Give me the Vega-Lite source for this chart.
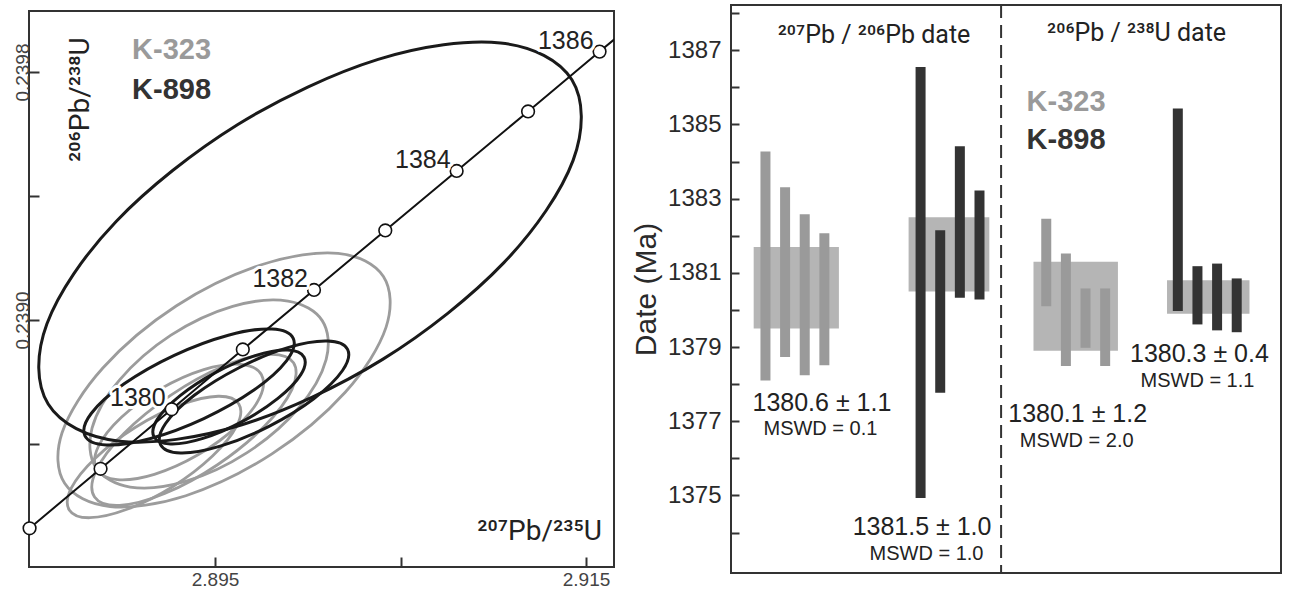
{
  "$schema": "https://vega.github.io/schema/vega-lite/v6.json",
  "background": "white",
  "padding": {"left": 11, "top": 3, "right": 0, "bottom": 0},
  "autosize": {"type": "pad"},
  "bounds": "flush",
  "center": true,
  "spacing": 117,
  "config": {"font": "Liberation Sans", "view": {"stroke": "#333333", "strokeWidth": 2}},
  "datasets": {
    "ellipses": [
      {"e":"B1","s":"K-898","i":0,"x":2.91424,"y":0.239775},{"e":"B1","s":"K-898","i":1,"x":2.914305,"y":0.239515},{"e":"B1","s":"K-898","i":2,"x":2.910574,"y":0.239185},{"e":"B1","s":"K-898","i":3,"x":2.904035,"y":0.238873},{"e":"B1","s":"K-898","i":4,"x":2.89645,"y":0.238662},{"e":"B1","s":"K-898","i":5,"x":2.889852,"y":0.238609},{"e":"B1","s":"K-898","i":6,"x":2.886003,"y":0.238729},{"e":"B1","s":"K-898","i":7,"x":2.885938,"y":0.238988},{"e":"B1","s":"K-898","i":8,"x":2.889668,"y":0.239318},{"e":"B1","s":"K-898","i":9,"x":2.896208,"y":0.23963},{"e":"B1","s":"K-898","i":10,"x":2.903793,"y":0.239841},{"e":"B1","s":"K-898","i":11,"x":2.910391,"y":0.239894},
      {"e":"G1","s":"K-323","i":0,"x":2.904078,"y":0.23914},{"e":"G1","s":"K-323","i":1,"x":2.904218,"y":0.238976},{"e":"G1","s":"K-323","i":2,"x":2.902019,"y":0.238767},{"e":"G1","s":"K-323","i":3,"x":2.898067,"y":0.238568},{"e":"G1","s":"K-323","i":4,"x":2.893426,"y":0.238433},{"e":"G1","s":"K-323","i":5,"x":2.88934,"y":0.238398},{"e":"G1","s":"K-323","i":6,"x":2.886892,"y":0.238473},{"e":"G1","s":"K-323","i":7,"x":2.886752,"y":0.238636},{"e":"G1","s":"K-323","i":8,"x":2.888951,"y":0.238845},{"e":"G1","s":"K-323","i":9,"x":2.892903,"y":0.239045},{"e":"G1","s":"K-323","i":10,"x":2.897544,"y":0.239179},{"e":"G1","s":"K-323","i":11,"x":2.901636,"y":0.239215},
      {"e":"G2","s":"K-323","i":0,"x":2.900779,"y":0.238998},{"e":"G2","s":"K-323","i":1,"x":2.900989,"y":0.238872},{"e":"G2","s":"K-323","i":2,"x":2.899507,"y":0.238716},{"e":"G2","s":"K-323","i":3,"x":2.89673,"y":0.238572},{"e":"G2","s":"K-323","i":4,"x":2.893404,"y":0.238479},{"e":"G2","s":"K-323","i":5,"x":2.890423,"y":0.238461},{"e":"G2","s":"K-323","i":6,"x":2.888574,"y":0.238524},{"e":"G2","s":"K-323","i":7,"x":2.888369,"y":0.238651},{"e":"G2","s":"K-323","i":8,"x":2.889846,"y":0.238806},{"e":"G2","s":"K-323","i":9,"x":2.892623,"y":0.238951},{"e":"G2","s":"K-323","i":10,"x":2.895949,"y":0.239044},{"e":"G2","s":"K-323","i":11,"x":2.898935,"y":0.239061},
      {"e":"G3","s":"K-323","i":0,"x":2.897496,"y":0.238824},{"e":"G3","s":"K-323","i":1,"x":2.897415,"y":0.23875},{"e":"G3","s":"K-323","i":2,"x":2.896164,"y":0.238656},{"e":"G3","s":"K-323","i":3,"x":2.894084,"y":0.238565},{"e":"G3","s":"K-323","i":4,"x":2.891728,"y":0.238502},{"e":"G3","s":"K-323","i":5,"x":2.889728,"y":0.238485},{"e":"G3","s":"K-323","i":6,"x":2.888623,"y":0.238518},{"e":"G3","s":"K-323","i":7,"x":2.888703,"y":0.238591},{"e":"G3","s":"K-323","i":8,"x":2.889954,"y":0.238686},{"e":"G3","s":"K-323","i":9,"x":2.892035,"y":0.238777},{"e":"G3","s":"K-323","i":10,"x":2.894391,"y":0.23884},{"e":"G3","s":"K-323","i":11,"x":2.896391,"y":0.238857},
      {"e":"G4","s":"K-323","i":0,"x":2.896283,"y":0.238729},{"e":"G4","s":"K-323","i":1,"x":2.89617,"y":0.238658},{"e":"G4","s":"K-323","i":2,"x":2.894865,"y":0.238561},{"e":"G4","s":"K-323","i":3,"x":2.892712,"y":0.238462},{"e":"G4","s":"K-323","i":4,"x":2.890294,"y":0.23839},{"e":"G4","s":"K-323","i":5,"x":2.888251,"y":0.238362},{"e":"G4","s":"K-323","i":6,"x":2.88714,"y":0.238387},{"e":"G4","s":"K-323","i":7,"x":2.887253,"y":0.238458},{"e":"G4","s":"K-323","i":8,"x":2.888558,"y":0.238555},{"e":"G4","s":"K-323","i":9,"x":2.890712,"y":0.238654},{"e":"G4","s":"K-323","i":10,"x":2.893129,"y":0.238726},{"e":"G4","s":"K-323","i":11,"x":2.895173,"y":0.238754},
      {"e":"G5","s":"K-323","i":0,"x":2.899232,"y":0.238862},{"e":"G5","s":"K-323","i":1,"x":2.899148,"y":0.238776},{"e":"G5","s":"K-323","i":2,"x":2.897647,"y":0.238656},{"e":"G5","s":"K-323","i":3,"x":2.895135,"y":0.238533},{"e":"G5","s":"K-323","i":4,"x":2.892283,"y":0.23844},{"e":"G5","s":"K-323","i":5,"x":2.889854,"y":0.238402},{"e":"G5","s":"K-323","i":6,"x":2.888504,"y":0.238429},{"e":"G5","s":"K-323","i":7,"x":2.888588,"y":0.238514},{"e":"G5","s":"K-323","i":8,"x":2.890089,"y":0.238634},{"e":"G5","s":"K-323","i":9,"x":2.892601,"y":0.238757},{"e":"G5","s":"K-323","i":10,"x":2.895453,"y":0.238851},{"e":"G5","s":"K-323","i":11,"x":2.897881,"y":0.238889},
      {"e":"B2","s":"K-898","i":0,"x":2.899216,"y":0.238941},{"e":"B2","s":"K-898","i":1,"x":2.898863,"y":0.238869},{"e":"B2","s":"K-898","i":2,"x":2.897097,"y":0.238774},{"e":"B2","s":"K-898","i":3,"x":2.894396,"y":0.238682},{"e":"B2","s":"K-898","i":4,"x":2.89148,"y":0.238617},{"e":"B2","s":"K-898","i":5,"x":2.889132,"y":0.238597},{"e":"B2","s":"K-898","i":6,"x":2.887981,"y":0.238627},{"e":"B2","s":"K-898","i":7,"x":2.888334,"y":0.238699},{"e":"B2","s":"K-898","i":8,"x":2.8901,"y":0.238794},{"e":"B2","s":"K-898","i":9,"x":2.892801,"y":0.238886},{"e":"B2","s":"K-898","i":10,"x":2.895717,"y":0.238951},{"e":"B2","s":"K-898","i":11,"x":2.898065,"y":0.238971},
      {"e":"B3","s":"K-898","i":0,"x":2.899801,"y":0.23888},{"e":"B3","s":"K-898","i":1,"x":2.899615,"y":0.238823},{"e":"B3","s":"K-898","i":2,"x":2.898391,"y":0.238747},{"e":"B3","s":"K-898","i":3,"x":2.896464,"y":0.238672},{"e":"B3","s":"K-898","i":4,"x":2.894348,"y":0.238618},{"e":"B3","s":"K-898","i":5,"x":2.892606,"y":0.2386},{"e":"B3","s":"K-898","i":6,"x":2.891709,"y":0.238623},{"e":"B3","s":"K-898","i":7,"x":2.891895,"y":0.23868},{"e":"B3","s":"K-898","i":8,"x":2.893119,"y":0.238756},{"e":"B3","s":"K-898","i":9,"x":2.895046,"y":0.238831},{"e":"B3","s":"K-898","i":10,"x":2.897162,"y":0.238885},{"e":"B3","s":"K-898","i":11,"x":2.898903,"y":0.238903},
      {"e":"B4","s":"K-898","i":0,"x":2.902146,"y":0.238905},{"e":"B4","s":"K-898","i":1,"x":2.901873,"y":0.238837},{"e":"B4","s":"K-898","i":2,"x":2.900323,"y":0.238746},{"e":"B4","s":"K-898","i":3,"x":2.89791,"y":0.238657},{"e":"B4","s":"K-898","i":4,"x":2.89528,"y":0.238593},{"e":"B4","s":"K-898","i":5,"x":2.89314,"y":0.238571},{"e":"B4","s":"K-898","i":6,"x":2.892059,"y":0.238598},{"e":"B4","s":"K-898","i":7,"x":2.892332,"y":0.238666},{"e":"B4","s":"K-898","i":8,"x":2.893881,"y":0.238757},{"e":"B4","s":"K-898","i":9,"x":2.896294,"y":0.238846},{"e":"B4","s":"K-898","i":10,"x":2.898925,"y":0.238911},{"e":"B4","s":"K-898","i":11,"x":2.901065,"y":0.238932}
    ],
    "concordia": [
      {"age":1378,"x":2.885001,"y":0.238328},{"age":1379,"x":2.888829,"y":0.23852},{"age":1380,"x":2.892661,"y":0.238712},{"age":1381,"x":2.896497,"y":0.238905},{"age":1382,"x":2.900336,"y":0.239097},{"age":1383,"x":2.904179,"y":0.239289},{"age":1384,"x":2.908026,"y":0.239481},{"age":1385,"x":2.911877,"y":0.239673},{"age":1386,"x":2.915732,"y":0.239866},{"age":1386.5,"x":2.91766,"y":0.239962}
    ],
    "bars": [
      {"s":"K-323","m":"207/206","pos":1.5,"lo":1378.10,"hi":1384.27},
      {"s":"K-323","m":"207/206","pos":2.5,"lo":1378.73,"hi":1383.31},
      {"s":"K-323","m":"207/206","pos":3.5,"lo":1378.24,"hi":1382.58},
      {"s":"K-323","m":"207/206","pos":4.5,"lo":1378.51,"hi":1382.07},
      {"s":"K-898","m":"207/206","pos":9.4,"lo":1374.93,"hi":1386.55},
      {"s":"K-898","m":"207/206","pos":10.4,"lo":1377.77,"hi":1382.15},
      {"s":"K-898","m":"207/206","pos":11.4,"lo":1380.33,"hi":1384.41},
      {"s":"K-898","m":"207/206","pos":12.4,"lo":1380.28,"hi":1383.22},
      {"s":"K-323","m":"206/238","pos":15.8,"lo":1380.10,"hi":1382.46},
      {"s":"K-323","m":"206/238","pos":16.8,"lo":1378.49,"hi":1381.52},
      {"s":"K-323","m":"206/238","pos":17.8,"lo":1378.98,"hi":1380.58},
      {"s":"K-323","m":"206/238","pos":18.8,"lo":1378.49,"hi":1380.58},
      {"s":"K-898","m":"206/238","pos":22.5,"lo":1379.97,"hi":1385.43},
      {"s":"K-898","m":"206/238","pos":23.5,"lo":1379.61,"hi":1381.18},
      {"s":"K-898","m":"206/238","pos":24.5,"lo":1379.45,"hi":1381.25},
      {"s":"K-898","m":"206/238","pos":25.5,"lo":1379.40,"hi":1380.85}
    ],
    "boxes": [
      {"s":"K-323","m":"207/206","x1":0.9,"x2":5.24,"lo":1379.5,"hi":1381.7},
      {"s":"K-898","m":"207/206","x1":8.79,"x2":12.9,"lo":1380.5,"hi":1382.5},
      {"s":"K-323","m":"206/238","x1":15.15,"x2":19.45,"lo":1378.9,"hi":1381.3},
      {"s":"K-898","m":"206/238","x1":21.95,"x2":26.15,"lo":1379.9,"hi":1380.8}
    ]
  },
  "hconcat": [
    {
      "width": 585,
      "height": 556,
      "encoding": {
        "x": {"field": "x", "type": "quantitative",
          "scale": {"domain": [2.88497, 2.91651], "nice": false, "zero": false},
          "axis": {"values": [2.895, 2.905, 2.915], "labelExpr": "format(datum.value, '.3f') == '2.905' ? '' : format(datum.value, '.3f')", "title": null, "grid": false, "domain": false, "tickSize": -10, "tickWidth": 2, "tickColor": "#333333", "labelFontSize": 19, "labelColor": "#444444", "labelPadding": 13.5}},
        "y": {"field": "y", "type": "quantitative",
          "scale": {"domain": [0.238203, 0.239997], "nice": false, "zero": false},
          "axis": {"values": [0.2386, 0.239, 0.2394, 0.2398], "labelExpr": "(format(datum.value, '.4f') == '0.2390' || format(datum.value, '.4f') == '0.2398') ? format(datum.value, '.4f') : ''", "title": null, "grid": false, "domain": false, "tickSize": -10, "tickWidth": 2, "tickColor": "#333333", "labelFontSize": 19, "labelColor": "#444444", "labelAngle": 270, "labelAlign": "center", "labelBaseline": "alphabetic", "labelPadding": 11}}
      },
      "layer": [
        {
          "data": {"name": "ellipses"},
          "transform": [{"filter": "datum.s == 'K-323'"}],
          "mark": {"type": "line", "interpolate": "cardinal-closed", "strokeWidth": 2.8, "color": "#9c9c9c", "clip": true},
          "encoding": {"detail": {"field": "e"}, "order": {"field": "i", "type": "quantitative"}}
        },
        {
          "data": {"name": "ellipses"},
          "transform": [{"filter": "datum.s == 'K-898'"}],
          "mark": {"type": "line", "interpolate": "cardinal-closed", "strokeWidth": 3, "color": "#1a1a1a", "clip": true},
          "encoding": {"detail": {"field": "e"}, "order": {"field": "i", "type": "quantitative"}}
        },
        {
          "data": {"name": "concordia"},
          "mark": {"type": "line", "strokeWidth": 2, "color": "#111111", "clip": true},
          "encoding": {"order": {"field": "age", "type": "quantitative"}}
        },
        {
          "data": {"name": "concordia"},
          "transform": [{"filter": "datum.age <= 1386"}],
          "mark": {"type": "point", "shape": "circle", "filled": true, "fill": "white", "stroke": "#111111", "strokeWidth": 1.6, "size": 160, "opacity": 1}
        },
        {
          "data": {"name": "concordia"},
          "transform": [{"filter": "indexof([1380, 1382, 1384, 1386], datum.age) >= 0"}],
          "mark": {"type": "text", "align": "right", "baseline": "alphabetic", "dx": -6, "dy": -3, "fontSize": 25, "fill": "white", "stroke": "white", "strokeWidth": 6, "strokeJoin": "round"},
          "encoding": {"text": {"field": "age", "type": "quantitative", "format": "d"}}
        },
        {
          "data": {"name": "concordia"},
          "transform": [{"filter": "indexof([1380, 1382, 1384, 1386], datum.age) >= 0"}],
          "mark": {"type": "text", "align": "right", "baseline": "alphabetic", "dx": -6, "dy": -3, "fontSize": 25, "color": "#222222"},
          "encoding": {"text": {"field": "age", "type": "quantitative", "format": "d"}}
        },
        {
          "data": {"values": [
            {"x": 2.890526, "y": 0.239842, "t": "K-323", "s": "K-323"},
            {"x": 2.890526, "y": 0.239713, "t": "K-898", "s": "K-898"}
          ]},
          "mark": {"type": "text", "align": "left", "baseline": "alphabetic", "fontSize": 29, "fontWeight": "bold"},
          "encoding": {
            "text": {"field": "t"},
            "color": {"field": "s", "type": "nominal", "scale": {"domain": ["K-323", "K-898"], "range": ["#9a9a9a", "#333333"]}, "legend": null}
          }
        },
        {
          "data": {"values": [{"x": 2.888208, "y": 0.239711, "t": "²⁰⁶Pb/²³⁸U"}]},
          "mark": {"type": "text", "angle": 270, "align": "center", "baseline": "alphabetic", "fontSize": 28, "font": "Roboto", "color": "#222222"},
          "encoding": {"text": {"field": "t"}}
        },
        {
          "data": {"values": [{"x": 2.915863, "y": 0.23829, "t": "²⁰⁷Pb/²³⁵U"}]},
          "mark": {"type": "text", "align": "right", "baseline": "alphabetic", "fontSize": 28, "font": "Roboto", "color": "#222222"},
          "encoding": {"text": {"field": "t"}}
        }
      ]
    },
    {
      "width": 550,
      "height": 568,
      "layer": [
        {
          "data": {"name": "boxes"},
          "mark": {"type": "rect", "color": "#b5b5b5"},
          "encoding": {
            "x": {"field": "x1", "type": "quantitative", "scale": {"domain": [0, 27.5], "nice": false, "zero": false}, "axis": null},
            "x2": {"field": "x2"},
            "y": {"field": "lo", "type": "quantitative", "title": "Date (Ma)", "scale": {"domain": [1372.91, 1388.22], "nice": false, "zero": false},
              "axis": {"values": [1374, 1375, 1376, 1377, 1378, 1379, 1380, 1381, 1382, 1383, 1384, 1385, 1386, 1387, 1388], "format": "d", "labelExpr": "datum.value % 2 == 1 ? datum.label : ''", "grid": false, "domain": false, "tickSize": -8, "tickWidth": 2, "tickColor": "#333333", "labelFontSize": 24, "labelColor": "#2a2a2a", "labelPadding": 18, "title": "Date (Ma)", "titleFontSize": 30, "titleFontWeight": "normal", "titleColor": "#2a2a2a", "titlePadding": 6}},
            "y2": {"field": "hi"}
          }
        },
        {
          "data": {"name": "bars"},
          "mark": {"type": "bar", "size": 10},
          "encoding": {
            "x": {"field": "pos", "type": "quantitative", "scale": {"domain": [0, 27.5], "nice": false, "zero": false}, "axis": null},
            "y": {"field": "lo", "type": "quantitative", "title": "Date (Ma)", "scale": {"domain": [1372.91, 1388.22], "nice": false, "zero": false}},
            "y2": {"field": "hi"},
            "color": {"field": "s", "type": "nominal", "scale": {"domain": ["K-323", "K-898"], "range": ["#888888", "#353535"]}, "legend": null}
          }
        },
        {
          "data": {"values": [{"pos": 13.5}]},
          "mark": {"type": "rule", "strokeDash": [13, 7], "strokeWidth": 2, "color": "#333333"},
          "encoding": {
            "x": {"field": "pos", "type": "quantitative", "scale": {"domain": [0, 27.5], "nice": false, "zero": false}, "axis": null}
          }
        },
        {
          "data": {"values": [
            {"pos": 4.375, "date": 1377.27, "t": "1380.6 ± 1.1"},
            {"pos": 9.475, "date": 1373.94, "t": "1381.5 ± 1.0"},
            {"pos": 17.4, "date": 1376.98, "t": "1380.1 ± 1.2"},
            {"pos": 23.6, "date": 1378.59, "t": "1380.3 ± 0.4"}
          ]},
          "mark": {"type": "text", "align": "center", "baseline": "alphabetic", "fontSize": 25, "color": "#222222"},
          "encoding": {
            "x": {"field": "pos", "type": "quantitative", "scale": {"domain": [0, 27.5], "nice": false, "zero": false}, "axis": null},
            "y": {"field": "date", "type": "quantitative", "title": "Date (Ma)", "scale": {"domain": [1372.91, 1388.22], "nice": false, "zero": false}},
            "text": {"field": "t"}
          }
        },
        {
          "data": {"values": [
            {"pos": 4.3, "date": 1376.63, "t": "MSWD = 0.1"},
            {"pos": 9.7, "date": 1373.26, "t": "MSWD = 1.0"},
            {"pos": 17.35, "date": 1376.3, "t": "MSWD = 2.0"},
            {"pos": 23.5, "date": 1377.93, "t": "MSWD = 1.1"}
          ]},
          "mark": {"type": "text", "align": "center", "baseline": "alphabetic", "fontSize": 20, "color": "#222222"},
          "encoding": {
            "x": {"field": "pos", "type": "quantitative", "scale": {"domain": [0, 27.5], "nice": false, "zero": false}, "axis": null},
            "y": {"field": "date", "type": "quantitative", "title": "Date (Ma)", "scale": {"domain": [1372.91, 1388.22], "nice": false, "zero": false}},
            "text": {"field": "t"}
          }
        },
        {
          "data": {"values": [
            {"pos": 7.03, "date": 1387.2, "t": "²⁰⁷Pb / ²⁰⁶Pb date"},
            {"pos": 20.4, "date": 1387.25, "t": "²⁰⁶Pb / ²³⁸U date"}
          ]},
          "mark": {"type": "text", "align": "center", "baseline": "alphabetic", "fontSize": 25, "font": "Roboto", "color": "#222222"},
          "encoding": {
            "x": {"field": "pos", "type": "quantitative", "scale": {"domain": [0, 27.5], "nice": false, "zero": false}, "axis": null},
            "y": {"field": "date", "type": "quantitative", "title": "Date (Ma)", "scale": {"domain": [1372.91, 1388.22], "nice": false, "zero": false}},
            "text": {"field": "t"}
          }
        },
        {
          "data": {"values": [
            {"pos": 14.8, "date": 1385.36, "t": "K-323", "s": "K-323"},
            {"pos": 14.8, "date": 1384.33, "t": "K-898", "s": "K-898"}
          ]},
          "mark": {"type": "text", "align": "left", "baseline": "alphabetic", "fontSize": 29, "fontWeight": "bold"},
          "encoding": {
            "x": {"field": "pos", "type": "quantitative", "scale": {"domain": [0, 27.5], "nice": false, "zero": false}, "axis": null},
            "y": {"field": "date", "type": "quantitative", "title": "Date (Ma)", "scale": {"domain": [1372.91, 1388.22], "nice": false, "zero": false}},
            "text": {"field": "t"},
            "color": {"field": "s", "type": "nominal", "scale": {"domain": ["K-323", "K-898"], "range": ["#9a9a9a", "#333333"]}, "legend": null}
          }
        }
      ]
    }
  ]
}
